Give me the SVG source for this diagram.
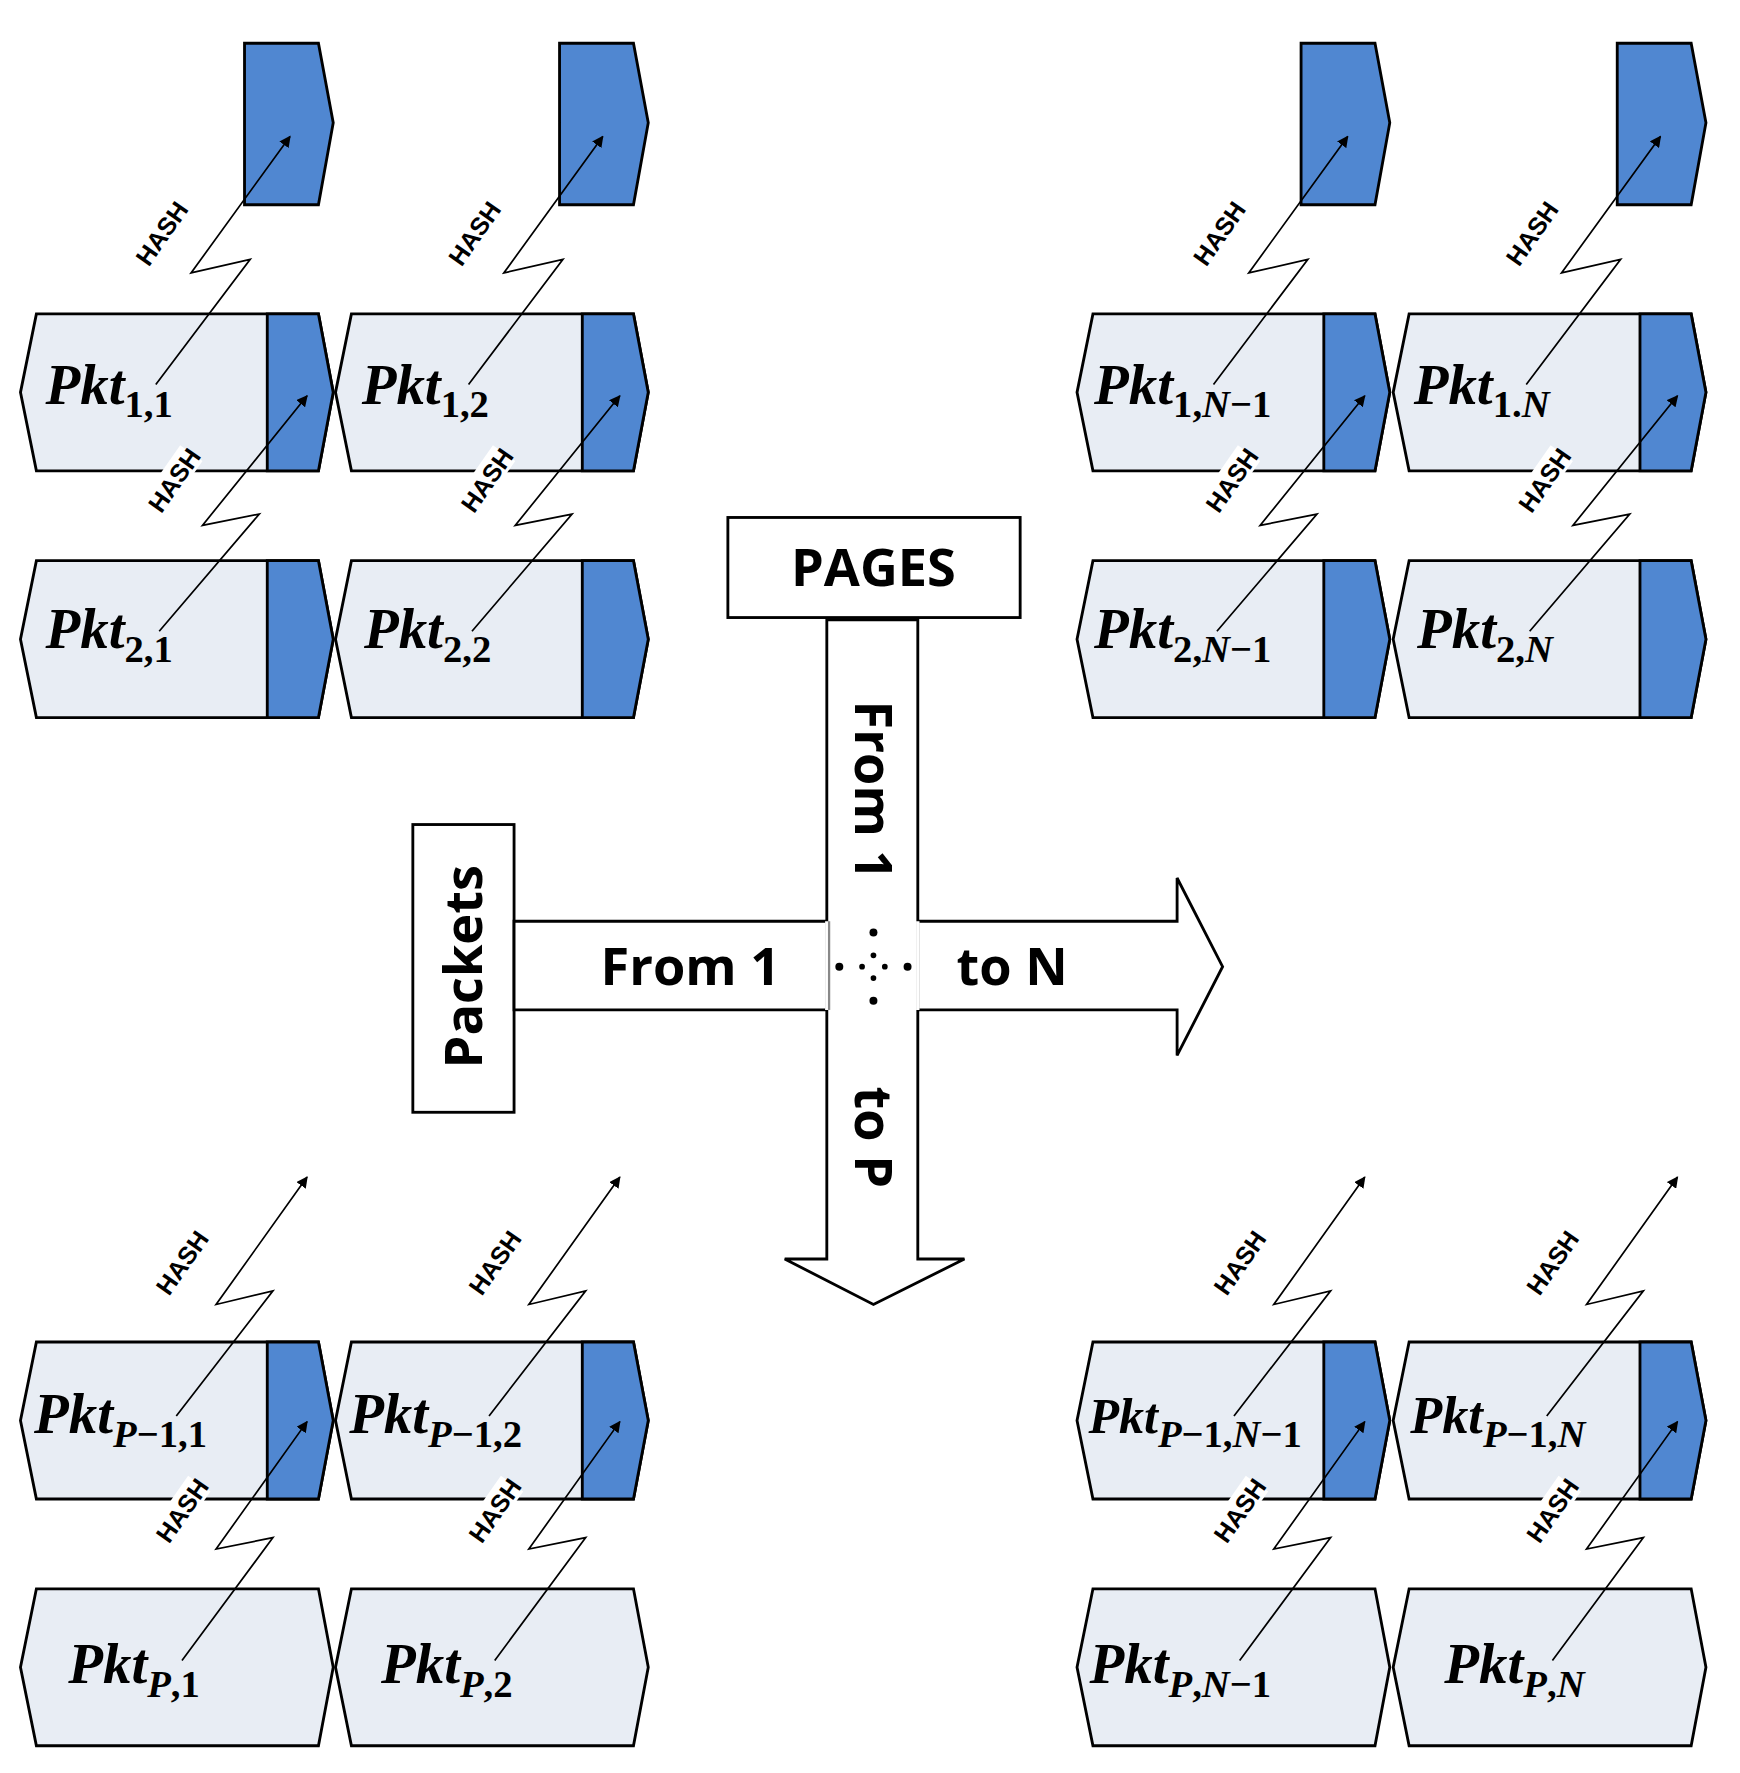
<svg xmlns="http://www.w3.org/2000/svg" xmlns:xlink="http://www.w3.org/1999/xlink" width="1740" height="1773" viewBox="0 0 1740 1773">
<style>
.pk{fill:#e8edf4;stroke:#000;stroke-width:2.5}
.bl{fill:#5087d1;stroke:#000;stroke-width:2.5}
.wr{fill:#fff;stroke:#000;stroke-width:2.5}
.h{fill:none;stroke:#000;stroke-width:1.5}
.ht{font-family:"Liberation Sans",Arial,sans-serif;font-size:22px;font-weight:bold}
.pt{font-family:"Liberation Serif","DejaVu Serif",serif;font-style:italic;font-weight:bold;font-size:50px}
.sb{font-size:34px;font-style:normal}
.si{font-style:italic}
.ct{font-family:"Open Sans","DejaVu Sans",sans-serif;font-weight:bold;font-size:46px}
</style>
<defs>
<marker id="ar" markerWidth="10" markerHeight="10" refX="9" refY="5" orient="auto" markerUnits="userSpaceOnUse" viewBox="0 0 10 10"><path d="M0,0L10,5L0,10z"/></marker>
<marker id="a2" markerWidth="22" markerHeight="18" refX="20" refY="9" orient="auto" markerUnits="userSpaceOnUse"><path d="M0,0L22,9L0,18z"/></marker>
<g id="pkt"><path class="pk" d="M14,0H262L275,69L262,138H14L0,69Z"/><path class="bl" d="M217,0H262L275,69L262,138H217Z"/></g>
<g id="pkw"><path class="pk" d="M14,0H262L275,69L262,138H14L0,69Z"/></g>
<g id="hdr"><path class="bl" d="M197,0H262L275,70L262,142H197Z"/></g>
<g id="hz"><rect x="-28" y="-13" width="56" height="24" fill="#fff"/><text class="ht" text-anchor="middle" y="8">HASH</text></g>
</defs>
<g transform="scale(1.1373)">
<g id="nodes">
<g id="headers"><use href="#hdr" x="18" y="38"/><use href="#hdr" x="295" y="38"/><use href="#hdr" x="947" y="38"/><use href="#hdr" x="1225" y="38"/></g>
<g id="row1"><use href="#pkt" x="18" y="276"/><use href="#pkt" x="295" y="276"/><use href="#pkt" x="947" y="276"/><use href="#pkt" x="1225" y="276"/></g>
<g id="row2"><use href="#pkt" x="18" y="493"/><use href="#pkt" x="295" y="493"/><use href="#pkt" x="947" y="493"/><use href="#pkt" x="1225" y="493"/></g>
<g id="rowP1"><use href="#pkt" x="18" y="1180"/><use href="#pkt" x="295" y="1180"/><use href="#pkt" x="947" y="1180"/><use href="#pkt" x="1225" y="1180"/></g>
<g id="rowP"><use href="#pkw" x="18" y="1397"/><use href="#pkw" x="295" y="1397"/><use href="#pkw" x="947" y="1397"/><use href="#pkw" x="1225" y="1397"/></g>
</g>
<g id="labels" class="pt">
<text x="40" y="355">Pkt<tspan class="sb" dy="12">1,1</tspan></text>
<text x="318" y="355">Pkt<tspan class="sb" dy="12">1,2</tspan></text>
<text x="962" y="355">Pkt<tspan class="sb" dy="12">1,<tspan class="si">N</tspan>−1</tspan></text>
<text x="1243" y="355">Pkt<tspan class="sb" dy="12">1.<tspan class="si">N</tspan></tspan></text>
<text x="40" y="570">Pkt<tspan class="sb" dy="12">2,1</tspan></text>
<text x="320" y="570">Pkt<tspan class="sb" dy="12">2,2</tspan></text>
<text x="962" y="570">Pkt<tspan class="sb" dy="12">2,<tspan class="si">N</tspan>−1</tspan></text>
<text x="1246" y="570">Pkt<tspan class="sb" dy="12">2,<tspan class="si">N</tspan></tspan></text>
<text x="30" y="1260">Pkt<tspan class="sb" dy="12"><tspan class="si">P</tspan>−1,1</tspan></text>
<text x="307" y="1260">Pkt<tspan class="sb" dy="12"><tspan class="si">P</tspan>−1,2</tspan></text>
<text x="957" y="1260" font-size="44">Pkt<tspan class="sb" font-size="30" dy="12"><tspan class="si">P</tspan>−1,<tspan class="si">N</tspan>−1</tspan></text>
<text x="1240" y="1260" font-size="46">Pkt<tspan class="sb" font-size="31" dy="12"><tspan class="si">P</tspan>−1,<tspan class="si">N</tspan></tspan></text>
<text x="60" y="1480">Pkt<tspan class="sb" dy="12"><tspan class="si">P</tspan>,1</tspan></text>
<text x="335" y="1480">Pkt<tspan class="sb" dy="12"><tspan class="si">P</tspan>,2</tspan></text>
<text x="958" y="1480">Pkt<tspan class="sb" dy="12"><tspan class="si">P</tspan>,<tspan class="si">N</tspan>−1</tspan></text>
<text x="1270" y="1480">Pkt<tspan class="sb" dy="12"><tspan class="si">P</tspan>,<tspan class="si">N</tspan></tspan></text>
</g>
<g id="connectors">
<g id="c1">
<path class="h" marker-end="url(#ar)" d="M137,338L220,228L168,240L255,120"/>
<path class="h" marker-end="url(#ar)" d="M140,555L228,452L178,462L270,348"/>
<path class="h" marker-end="url(#ar)" d="M155,1245L240,1135L190,1147L270,1035"/>
<path class="h" marker-end="url(#ar)" d="M160,1460L240,1352L190,1362L270,1250"/>
<use href="#hz" transform="translate(142,205) rotate(-55)"/>
<use href="#hz" transform="translate(153,422) rotate(-55)"/>
<use href="#hz" transform="translate(160,1110) rotate(-55)"/>
<use href="#hz" transform="translate(160,1328) rotate(-55)"/>
</g>
<use href="#c1" x="275"/>
<use href="#c1" x="930"/>
<use href="#c1" x="1205"/>
</g>
<g id="center">
<rect class="wr" x="640" y="455" width="257" height="88"/>
<text class="ct" x="768" y="515" text-anchor="middle">PAGES</text>
<rect class="wr" x="363" y="725" width="89" height="253"/>
<text class="ct" transform="translate(424,850) rotate(-90)" text-anchor="middle">Packets</text>
<path class="wr" d="M452,810H1035V772L1075,850L1035,928V888H452Z"/>
<path class="wr" d="M727,545V1107H690L768,1147L848,1107H807V545Z"/>
<path d="M727,810V888M807,810V888" stroke="#fff" stroke-width="3"/>
<path d="M729,810V888" stroke="#888" stroke-width="2"/>
<text class="ct" x="607" y="866" text-anchor="middle">From 1</text>
<text class="ct" x="890" y="866" text-anchor="middle">to N</text>
<text class="ct" transform="translate(752,695) rotate(90)" text-anchor="middle">From 1</text>
<text class="ct" transform="translate(752,1000) rotate(90)" text-anchor="middle">to P</text>
<g fill="#000"><circle cx="738" cy="850" r="3.5"/><circle cx="798" cy="850" r="3.5"/><circle cx="768" cy="820" r="3.5"/><circle cx="768" cy="880" r="3.5"/><circle cx="758" cy="850" r="2.5"/><circle cx="778" cy="850" r="2.5"/><circle cx="768" cy="840" r="2.5"/><circle cx="768" cy="860" r="2.5"/></g>
</g>
</g>
</svg>
